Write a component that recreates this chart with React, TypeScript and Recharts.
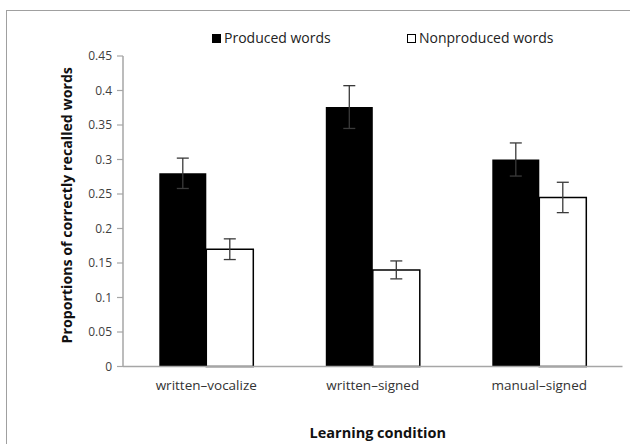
import { BarChart, Bar, XAxis, YAxis, ErrorBar } from 'recharts';

const CONDITIONS = ['written–vocalize', 'written–signed', 'manual–signed'];
const PRODUCED = [0.28, 0.376, 0.3];
const PRODUCED_ERR = [0.022, 0.031, 0.024];
const NONPRODUCED = [0.17, 0.14, 0.245];
const NONPRODUCED_ERR = [0.015, 0.013, 0.022];
const Y_TICKS = [0, 0.05, 0.1, 0.15, 0.2, 0.25, 0.3, 0.35, 0.4, 0.45];
const EDGE_TICKS = [0, 1, 2, 3];

const data = CONDITIONS.map((name, i) => ({
  name,
  produced: PRODUCED[i],
  producedErr: PRODUCED_ERR[i],
  nonproduced: NONPRODUCED[i],
  nonproducedErr: NONPRODUCED_ERR[i],
}));

const FONT = '"Open Sans", sans-serif';
const AXIS_GREY = '#a6a6a6';
const ERR_COLOR = '#3a3a3a';

// eslint-disable-next-line @typescript-eslint/no-explicit-any
function YTitle(props: any) {
  const { viewBox } = props;
  const cx = viewBox.x + 3;
  const cy = viewBox.y + viewBox.height / 2 - 6;
  return (
    <text
      x={cx}
      y={cy}
      transform={`rotate(-90 ${cx} ${cy})`}
      textAnchor="middle"
      dominantBaseline="central"
      fontFamily={FONT}
      fontSize={14.2}
      fontWeight={700}
      fill="#111"
    >
      Proportions of correctly recalled words
    </text>
  );
}

// eslint-disable-next-line @typescript-eslint/no-explicit-any
function XTitle(props: any) {
  const { viewBox } = props;
  return (
    <text
      x={viewBox.x + viewBox.width / 2 + 5}
      y={viewBox.y + 66}
      textAnchor="middle"
      dominantBaseline="central"
      fontFamily={FONT}
      fontSize={14.5}
      fontWeight={700}
      fill="#111"
    >
      Learning condition
    </text>
  );
}

function LegendItem({ left, fill, label }: { left: number; fill: string; label: string }) {
  return (
    <div style={{ position: 'absolute', left, top: 29, display: 'flex', alignItems: 'center' }}>
      <span
        style={{
          width: 7,
          height: 7,
          background: fill,
          border: '1px solid #000',
          marginRight: 3,
          display: 'inline-block',
        }}
      />
      <span style={{ fontFamily: FONT, fontSize: 14, color: '#222', lineHeight: '18px' }}>{label}</span>
    </div>
  );
}

export default function App() {
  return (
    <div
      style={{
        position: 'absolute',
        left: 0,
        top: 0,
        width: 630,
        height: 444,
        overflow: 'hidden',
        background: '#fff',
      }}
    >
      {/* frame of the original figure, cut off at right and bottom */}
      <div
        style={{
          position: 'absolute',
          left: 6,
          top: 10,
          width: 700,
          height: 500,
          border: '1.5px solid #a0a0a0',
        }}
      />
      <div style={{ position: 'absolute', left: 0, top: 0 }}>
        <BarChart
          width={630}
          height={444}
          data={data}
          margin={{ top: 56, right: 7.5, left: 63, bottom: 47.5 }}
          barCategoryGap="21.8%"
          barGap={0}
        >
          <XAxis
            xAxisId="edges"
            type="number"
            domain={[0, 3]}
            ticks={EDGE_TICKS}
            allowDataOverflow
            height={0}
            axisLine={false}
            tick={false}
            tickLine={{ stroke: AXIS_GREY, strokeWidth: 1.2 }}
            tickSize={5}
          />
          <XAxis
            dataKey="name"
            height={30}
            axisLine={{ stroke: AXIS_GREY, strokeWidth: 1.5 }}
            tickLine={false}
            tickSize={6}
            tickMargin={8}
            tick={{ fontFamily: FONT, fontSize: 13.5, fill: '#333' }}
            label={<XTitle />}
          />
          <YAxis
            width={60}
            domain={[0, 0.45]}
            ticks={Y_TICKS}
            interval={0}
            axisLine={{ stroke: AXIS_GREY, strokeWidth: 1.5 }}
            tickLine={{ stroke: AXIS_GREY, strokeWidth: 1.2 }}
            tickSize={6}
            tickMargin={5}
            tick={{ fontFamily: FONT, fontSize: 12, fill: '#404040' }}
            label={<YTitle />}
          />
          <Bar dataKey="produced" name="Produced words" fill="#000" isAnimationActive={false}>
            <ErrorBar dataKey="producedErr" width={6} stroke={ERR_COLOR} strokeWidth={1.3} isAnimationActive={false} />
          </Bar>
          <Bar
            dataKey="nonproduced"
            name="Nonproduced words"
            fill="#fff"
            stroke="#000"
            strokeWidth={1.5}
            isAnimationActive={false}
          >
            <ErrorBar dataKey="nonproducedErr" width={6} stroke={ERR_COLOR} strokeWidth={1.3} isAnimationActive={false} />
          </Bar>
        </BarChart>
      </div>
      <LegendItem left={212} fill="#000" label="Produced words" />
      <LegendItem left={407} fill="#fff" label="Nonproduced words" />
    </div>
  );
}
